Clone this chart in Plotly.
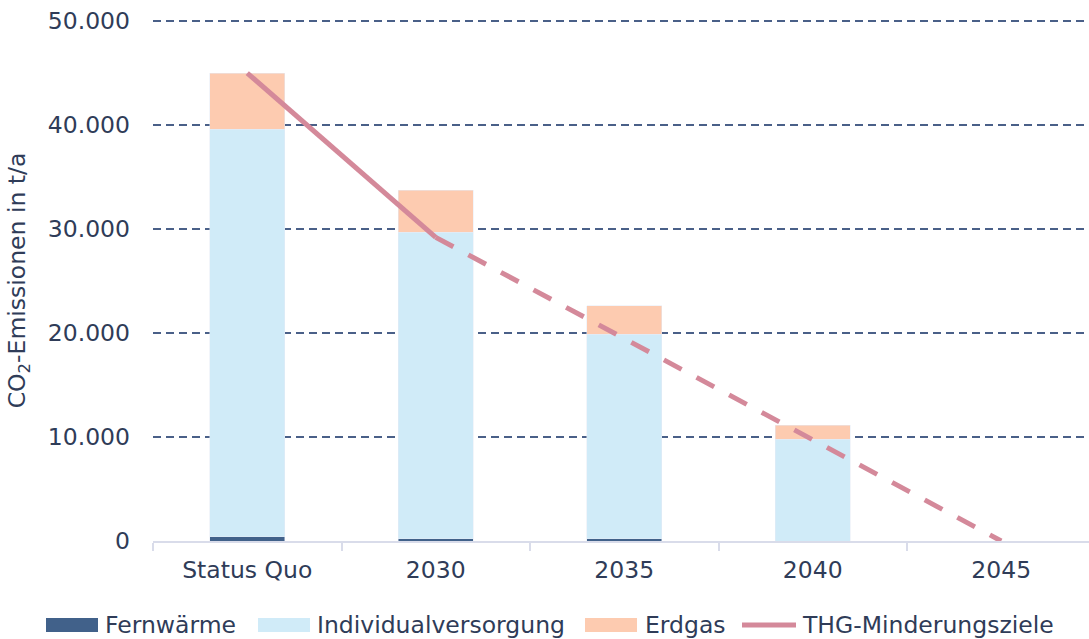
import plotly.graph_objects as go

# CO2 emissions by supply type (t/a)
kategorien = ["Status Quo", "2030", "2035", "2040", "2045"]
fernwaerme = [400, 200, 200, 0, 0]
individualversorgung = [39200, 29500, 19700, 9800, 0]
erdgas = [5400, 4050, 2700, 1350, 0]
thg_ziele = [45000, 29200, 19470, 9730, 0]

FONT = "DejaVu Sans"
FS = 23.5
TEXT = "#2f3c58"
C_FW = "#41618a"
C_IV = "#d0ebf8"
C_EG = "#fdcbb0"
C_THG = "#d4899a"

fig = go.Figure()
fig.add_trace(go.Bar(x=kategorien, y=fernwaerme, name="Fernwärme", marker_color=C_FW))
fig.add_trace(go.Bar(x=kategorien, y=individualversorgung, name="Individualversorgung", marker_color=C_IV))
fig.add_trace(go.Bar(x=kategorien, y=erdgas, name="Erdgas", marker_color=C_EG))
# reduction target: solid up to 2030, dashed afterwards
fig.add_trace(go.Scatter(x=kategorien[:2], y=thg_ziele[:2], mode="lines", name="THG-Minderungsziele",
                         line=dict(color=C_THG, width=5)))
fig.add_trace(go.Scatter(x=kategorien[1:], y=thg_ziele[1:], mode="lines", showlegend=False,
                         line=dict(color=C_THG, width=5, dash="20px,17px")))

W, H = 1089, 639
L, T, B = 153, 20, 98
PW, PH = W - L, H - T - B
CAT_STEP = 188.5  # px per category; the last slot runs past the right edge


def px_x(x):
    return (x - L) / PW


def px_y(y):
    return (H - B - y) / PH


# legend drawn as swatches + labels along the bottom
legend_items = [
    ("Fernwärme", C_FW, "rect", 46, 98, 103),
    ("Individualversorgung", C_IV, "rect", 258, 310, 315),
    ("Erdgas", C_EG, "rect", 585, 637, 643),
    ("THG-Minderungsziele", C_THG, "line", 742, 796, 800),
]
shapes = []
annotations = []
for label, col, kind, x0, x1, tx in legend_items:
    if kind == "rect":
        shapes.append(dict(type="rect", xref="paper", yref="paper",
                           x0=px_x(x0), x1=px_x(x1), y0=px_y(632), y1=px_y(618),
                           fillcolor=col, line_width=0, layer="above"))
    else:
        shapes.append(dict(type="line", xref="paper", yref="paper",
                           x0=px_x(x0), x1=px_x(x1), y0=px_y(625), y1=px_y(625),
                           line=dict(color=col, width=5), layer="above"))
    annotations.append(dict(text=label, xref="paper", yref="paper",
                            x=px_x(tx), y=px_y(625),
                            xanchor="left", yanchor="middle", showarrow=False,
                            font=dict(family=FONT, size=FS, color=TEXT)))

fig.update_layout(
    width=W, height=H,
    margin=dict(l=L, r=0, t=T, b=B),
    barmode="stack", bargap=0.6,
    plot_bgcolor="white", paper_bgcolor="white",
    separators=",.",
    showlegend=False,
    font=dict(family=FONT, size=FS, color=TEXT),
    shapes=shapes, annotations=annotations,
    xaxis=dict(range=[-0.5, -0.5 + PW / CAT_STEP],
               showline=True, linecolor="#d9dcea", linewidth=2,
               ticks="outside", tickson="boundaries", ticklen=8, tickcolor="#d9dcea", tickwidth=2,
               showgrid=False, tickfont=dict(size=FS, color=TEXT), ticklabelstandoff=7),
    yaxis=dict(range=[0, 50100], tickvals=[0, 10000, 20000, 30000, 40000, 50000], tickformat=",d",
               showgrid=True, gridcolor="#4a6088", gridwidth=2, griddash="8px,5px",
               zeroline=False, showline=False, ticks="",
               tickfont=dict(size=FS, color=TEXT), ticklabelstandoff=22,
               title=dict(text="CO<sub>2</sub>-Emissionen in t/a", font=dict(size=FS, color=TEXT), standoff=15)),
)

fig.write_html("out.html")
